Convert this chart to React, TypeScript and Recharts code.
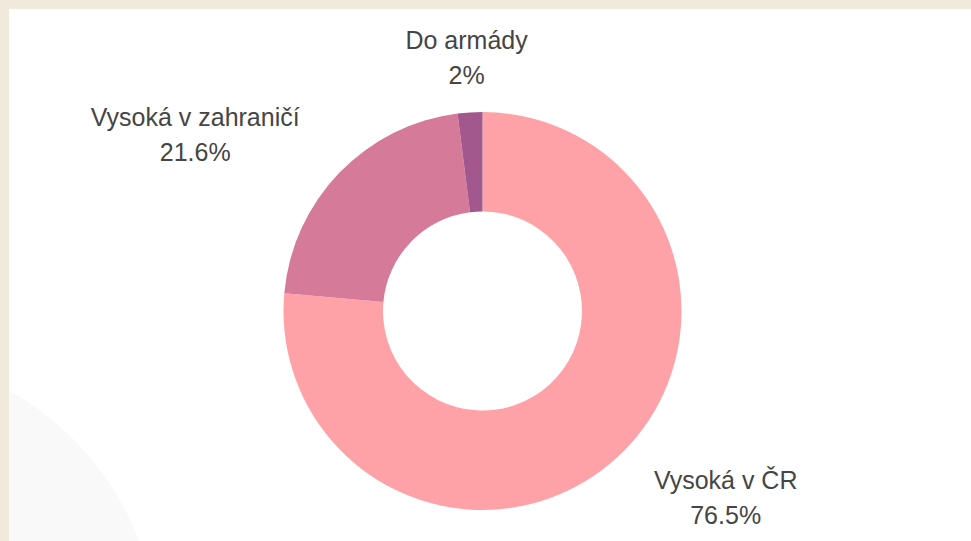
import { PieChart, Pie, Cell } from "recharts";

const names = ["Vysoká v ČR", "Vysoká v zahraničí", "Do armády"];
const shares = [76.5, 21.6, 2];
const colors = ["#ffa2a7", "#d57a99", "#a2578d"];

const data = names.map((name, i) => ({ name, value: shares[i] }));

const RAD = Math.PI / 180;
const LABEL_R = 254;
const FONT = "'Liberation Sans', Arial, sans-serif";
const FONT_SIZE = 25;

let ctx: CanvasRenderingContext2D | null = null;
function textWidth(s: string) {
  if (!ctx) ctx = document.createElement("canvas").getContext("2d");
  if (!ctx) return s.length * 12;
  ctx.font = `${FONT_SIZE}px ${FONT}`;
  return ctx.measureText(s).width;
}

function renderLabel(props: any) {
  const { cx, cy, midAngle, name, value } = props;
  const cos = Math.cos(-midAngle * RAD);
  const sin = Math.sin(-midAngle * RAD);
  const ax = cx + LABEL_R * cos;
  const y = cy + LABEL_R * sin;
  const line2 = `${value}%`;
  const w = Math.max(textWidth(name), textWidth(line2));
  // block is pushed to the outer side, lines centred inside it
  const x = cos > 0.1 ? ax + w / 2 : cos < -0.1 ? ax - w / 2 : ax;
  return (
    <text
      x={x}
      y={y}
      textAnchor="middle"
      fill="#454545"
      fontSize={FONT_SIZE}
      fontFamily={FONT}
    >
      <tspan x={x} dy={-9}>
        {name}
      </tspan>
      <tspan x={x} dy={35}>
        {line2}
      </tspan>
    </text>
  );
}

export default function App() {
  return (
    <div
      style={{
        position: "fixed",
        left: 0,
        top: 0,
        width: 971,
        height: 541,
        background: "#f0e9dc",
        overflow: "hidden",
      }}
    >
      <div
        style={{
          position: "absolute",
          left: 9,
          top: 9,
          right: 0,
          bottom: 0,
          background: "#ffffff",
          overflow: "hidden",
        }}
      >
        <div
          style={{
            position: "absolute",
            left: -132 - 290 - 9,
            top: 644 - 290 - 9,
            width: 580,
            height: 580,
            borderRadius: "50%",
            background: "#f9f9f9",
          }}
        />
      </div>
      <div style={{ position: "absolute", left: 0, top: 0 }}>
        <PieChart width={971} height={541} margin={{ top: 0, right: 0, bottom: 0, left: 0 }}>
          <Pie
            data={data}
            dataKey="value"
            nameKey="name"
            cx={482.5}
            cy={311}
            innerRadius={99.5}
            outerRadius={199}
            startAngle={90}
            endAngle={-270}
            stroke="none"
            label={renderLabel}
            labelLine={false}
            isAnimationActive={false}
          >
            {data.map((d, i) => (
              <Cell key={d.name} fill={colors[i]} />
            ))}
          </Pie>
        </PieChart>
      </div>
    </div>
  );
}
